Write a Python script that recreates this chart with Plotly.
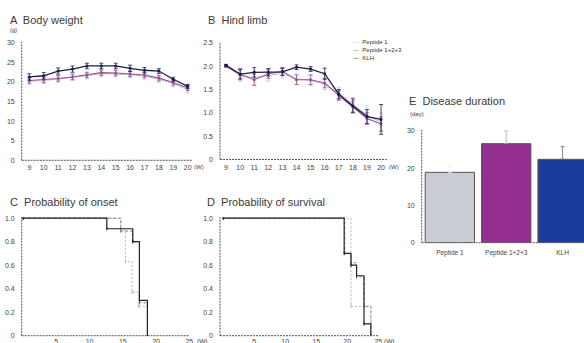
import plotly.graph_objects as go

W, H = 584, 343
FONT = "Liberation Sans"

# ---------------- data ----------------
weeks = [9, 10, 11, 12, 13, 14, 15, 16, 17, 18, 19, 20]

bw_pep1 = [20.2, 20.4, 20.8, 21.2, 21.6, 22.2, 22.1, 21.9, 21.5, 20.7, 19.6, 18.0]
bw_pep1_err = [0.8, 0.8, 0.8, 0.8, 0.8, 0.8, 0.8, 0.8, 0.8, 0.8, 0.8, 0.8]
bw_pep123 = [20.4, 20.6, 20.9, 21.3, 21.8, 22.4, 22.3, 22.1, 21.8, 21.0, 19.9, 18.5]
bw_pep123_err = [0.7, 0.7, 0.7, 0.7, 0.7, 0.7, 0.7, 0.7, 0.7, 0.7, 0.7, 0.7]
bw_klh = [21.3, 21.6, 22.8, 23.3, 24.1, 24.1, 24.1, 23.5, 23.0, 22.8, 20.7, 18.9]
bw_klh_err = [0.8, 0.8, 0.8, 0.8, 0.7, 0.7, 0.7, 0.8, 0.7, 0.6, 0.5, 0.5]

hl_pep1 = [2.0, 1.80, 1.75, 1.80, 1.85, 1.72, 1.70, 1.62, 1.42, 1.18, 0.95, 0.80]
hl_pep1_err = [0.02, 0.12, 0.15, 0.12, 0.10, 0.12, 0.12, 0.12, 0.12, 0.15, 0.20, 0.20]
hl_pep123 = [2.0, 1.83, 1.71, 1.84, 1.89, 1.71, 1.71, 1.64, 1.37, 1.13, 0.88, 0.76]
hl_pep123_err = [0.02, 0.12, 0.12, 0.10, 0.08, 0.10, 0.10, 0.10, 0.10, 0.12, 0.12, 0.15]
hl_klh = [2.02, 1.83, 1.87, 1.87, 1.88, 1.98, 1.94, 1.84, 1.40, 1.15, 0.92, 0.86]
hl_klh_err = [0.02, 0.10, 0.10, 0.08, 0.08, 0.05, 0.05, 0.12, 0.10, 0.15, 0.15, 0.32]

# probability of onset (step curves)
on_pep1_t = [0, 14.7, 15.4, 16.4, 17.4, 18.7]
on_pep1_p = [1.0, 0.90, 0.63, 0.37, 0.25, 0.0]
on_pep123_t = [0, 14.7, 16.5, 17.5, 18.7]
on_pep123_p = [1.0, 0.89, 0.80, 0.28, 0.0]
on_klh_t = [0, 12.6, 16.5, 17.5, 18.7]
on_klh_p = [1.0, 0.91, 0.80, 0.30, 0.0]

# probability of survival (step curves)
sv_pep1_t = [0, 20.6, 23.8]
sv_pep1_p = [1.0, 0.25, 0.0]
sv_pep123_t = [0, 19.6, 20.6, 21.5, 22.7, 23.8]
sv_pep123_p = [1.0, 0.70, 0.62, 0.50, 0.25, 0.0]
sv_klh_t = [0, 19.5, 20.6, 21.5, 22.7, 23.8]
sv_klh_p = [1.0, 0.70, 0.60, 0.51, 0.10, 0.0]

dur_groups = ["Peptide 1", "Peptide 1+2+3", "KLH"]
dur_values = [18.9, 26.6, 22.4]
dur_err = [1.5, 3.4, 3.4]

series_names = ["Peptide 1", "Peptide 1+2+3", "KLH"]

# ---------------- styles ----------------
C_P1 = "#c4c4c4"
C_P123 = "#9a4f9c"
C_KLH = "#1c1c48"
BAR_COLORS = ["#c9ccd3", "#952f8f", "#1a3c9c"]
ERR_COLORS = ["#eeeeee", "#aaaaaa", "#666666"]
TXT = "#444444"


def px(x):
    return x / W


def py(y):
    return 1 - y / H


fig = go.Figure()


def line_trace(x, y, err, color, name, xa, ya, width=1.1):
    fig.add_trace(go.Scatter(
        x=x, y=y, name=name, mode="lines+markers",
        line=dict(color=color, width=width),
        marker=dict(color=color, size=3),
        error_y=dict(type="data", array=err, color=color, thickness=0.8, width=2),
        xaxis=xa, yaxis=ya, showlegend=False))


# A
line_trace(weeks, bw_pep1, bw_pep1_err, C_P1, series_names[0], "x", "y")
line_trace(weeks, bw_pep123, bw_pep123_err, C_P123, series_names[1], "x", "y")
line_trace(weeks, bw_klh, bw_klh_err, C_KLH, series_names[2], "x", "y", 1.3)
# B
line_trace(weeks, hl_pep1, hl_pep1_err, C_P1, series_names[0], "x2", "y2")
line_trace(weeks, hl_pep123, hl_pep123_err, C_P123, series_names[1], "x2", "y2")
line_trace(weeks, hl_klh, hl_klh_err, C_KLH, series_names[2], "x2", "y2", 1.3)


def step_trace(t, p, color, dash, width, xa, ya, name):
    fig.add_trace(go.Scatter(
        x=t, y=p, name=name, mode="lines+markers", line_shape="hv",
        line=dict(color=color, dash=dash, width=width),
        marker=dict(color=color, size=2.5, symbol="line-ns-open", line=dict(width=1, color=color)),
        xaxis=xa, yaxis=ya, showlegend=False))


# C
step_trace(on_pep1_t, on_pep1_p, "#b5b5b5", "2px,2px", 1, "x3", "y3", series_names[0])
step_trace(on_pep123_t, on_pep123_p, "#8a76b8", "3px,2px", 1, "x3", "y3", series_names[1])
step_trace(on_klh_t, on_klh_p, "#222222", "solid", 1.2, "x3", "y3", series_names[2])
# D
step_trace(sv_pep1_t, sv_pep1_p, "#b5b5b5", "2px,2px", 1, "x4", "y4", series_names[0])
step_trace(sv_pep123_t, sv_pep123_p, "#9a8fb0", "3px,2px", 1, "x4", "y4", series_names[1])
step_trace(sv_klh_t, sv_klh_p, "#222222", "solid", 1.2, "x4", "y4", series_names[2])

# E
for i, g in enumerate(dur_groups):
    fig.add_trace(go.Bar(
        x=[g], y=[dur_values[i]], name=g, width=0.875,
        marker=dict(color=BAR_COLORS[i], line=dict(color="#555555", width=1)),
        error_y=dict(type="data", array=[dur_err[i]], symmetric=False, arrayminus=[0],
                     color=ERR_COLORS[i], thickness=0.8, width=2),
        xaxis="x5", yaxis="y5", showlegend=False))

tickfont = dict(family=FONT, size=7, color=TXT)


def xax(domain, rng, tickvals, anchor, standoff=2):
    return dict(domain=domain, range=rng, tickvals=tickvals, ticks="", showgrid=False,
                zeroline=False, showline=False, tickfont=tickfont, anchor=anchor,
                ticklabelstandoff=standoff, fixedrange=True, automargin=False)


def yax(domain, rng, tickvals, ticktext, anchor):
    return dict(domain=domain, range=rng, tickvals=tickvals, ticktext=ticktext, ticks="",
                showgrid=False, zeroline=False, showline=False, tickfont=tickfont,
                anchor=anchor, ticklabelstandoff=6, fixedrange=True, automargin=False)


fig.update_layout(
    width=W, height=H, margin=dict(l=0, r=0, t=0, b=0, pad=0),
    paper_bgcolor="white", plot_bgcolor="white",
    font=dict(family=FONT, color=TXT),
    bargap=0.125,
    xaxis=xax([px(21.7), px(191.7)], [8.47, 20.28], weeks, "y"),
    yaxis=yax([py(160.3), py(41.7)], [0, 30.3], [0, 5, 10, 15, 20, 25, 30],
              ["0", "5", "10", "15", "20", "25", "30"], "x"),
    xaxis2=xax([px(220), px(386.7)], [8.57, 20.4], weeks, "y2"),
    yaxis2=yax([py(159.5), py(42)], [0, 2.52], [0, 0.5, 1.0, 1.5, 2.0, 2.5],
               ["0", "0.5", "1.0", "1.5", "2.0", "2.5"], "x2"),
    xaxis3=xax([px(21.7), px(189.3)], [-0.2, 25], [5, 10, 15, 20, 25], "y3", 0),
    yaxis3=yax([py(335.7), py(217)], [0, 1.01], [0, 0.2, 0.4, 0.6, 0.8, 1.0],
               ["0", "0.2", "0.4", "0.6", "0.8", "1.0"], "x3"),
    xaxis4=xax([px(220), px(378.3)], [-0.5, 25], [5, 10, 15, 20, 25], "y4", 0),
    yaxis4=yax([py(335.7), py(217)], [0, 1.01], [0, 0.2, 0.4, 0.6, 0.8, 1.0],
               ["0", "0.2", "0.4", "0.6", "0.8", "1.0"], "x4"),
    xaxis5=dict(domain=[px(421.7), 1.0], range=[-0.5, 2.38], ticks="", showgrid=False,
                zeroline=False, showline=False, tickfont=dict(family=FONT, size=6.5, color=TXT),
                anchor="y5", type="category", fixedrange=True, ticklabelstandoff=5,
                automargin=False),
    yaxis5=yax([py(242.7), py(129.9)], [0, 30.3], [0, 10, 20, 30], ["0", "10", "20", "30"], "x5"),
)

# dotted axis lines
shapes = []
for n in ["", "2", "3", "4", "5"]:
    for (x0, y0, x1, y1) in [(0, 0, 0, 1), (0, 0, 1, 0)]:
        shapes.append(dict(type="line", xref=f"x{n} domain", yref=f"y{n} domain",
                           x0=x0, y0=y0, x1=x1, y1=y1,
                           line=dict(color="#555555", width=1, dash="2px,1px")))
fig.update_layout(shapes=shapes)

ann = []


def text(x, y, s, size=7, xanchor="left", yanchor="middle"):
    ann.append(dict(x=px(x), y=py(y), xref="paper", yref="paper", text=s, showarrow=False,
                    xanchor=xanchor, yanchor=yanchor, borderpad=0,
                    font=dict(family=FONT, size=size, color="#3a3a3a")))


text(9, 20, "A  Body weight", 11)
text(207, 20, "B  Hind limb", 11)
text(9, 202, "C  Probability of onset", 11)
text(206, 202, "D  Probability of survival", 11)
text(408, 101, "E  Disease duration", 11)
text(9, 30, "(g)", 6)
text(409, 114, "(day)", 6)
text(193, 167, "(W)", 6, "left")
text(388, 167, "(W)", 6, "left")
text(196, 337, "(W)", 6.5, "left", "top")
text(383, 337, "(W)", 6.5, "left", "top")

# legend (text entries, one block)
leg_colors = [C_P1, C_P123, C_KLH]
leg_lines = [f'<span style="color:{leg_colors[i]}">—</span>  {name}'
             for i, name in enumerate(series_names)]
ann.append(dict(x=px(352), y=py(38), xref="paper", yref="paper",
                text="<br>".join(leg_lines), align="left",
                showarrow=False, xanchor="left", yanchor="top", borderpad=0,
                font=dict(family=FONT, size=6, color="#333333")))
fig.update_layout(annotations=ann)

fig.write_html("out.html")
